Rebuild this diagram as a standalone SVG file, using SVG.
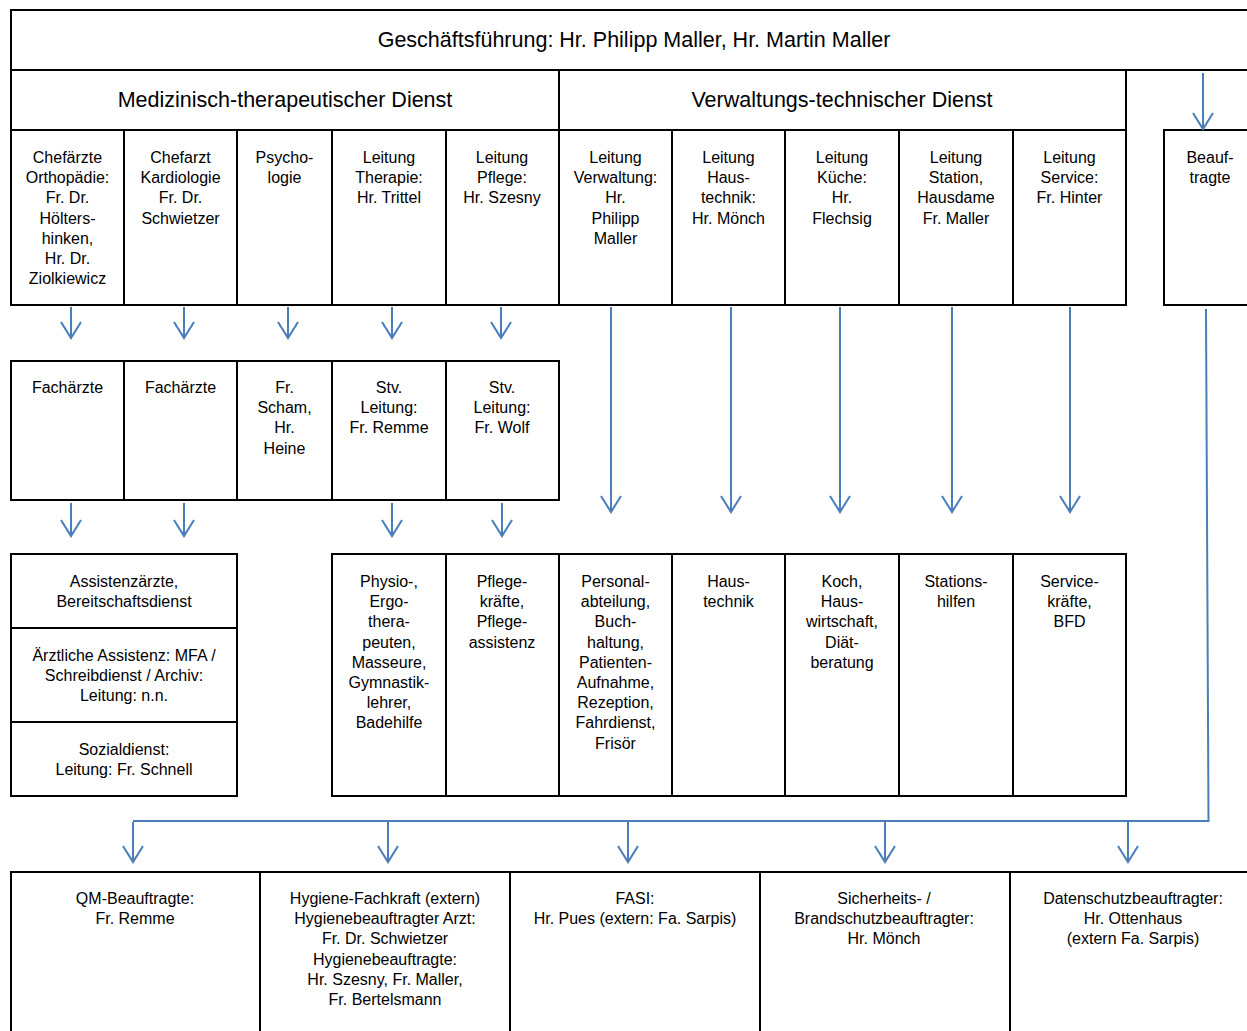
<svg xmlns="http://www.w3.org/2000/svg" width="1247" height="1031" viewBox="0 0 1247 1031">
<style>
.b{fill:#fff;stroke:#000;stroke-width:2}
.l{stroke:#000;stroke-width:2;fill:none}
text{font-family:"Liberation Sans",Arial,sans-serif;font-size:16px;fill:#000;text-anchor:middle}
.h{font-size:21.5px}
.c{stroke:#4a7ebb;stroke-width:2;fill:none}
</style>
<defs>
<marker id="ah" markerUnits="userSpaceOnUse" markerWidth="24" markerHeight="24" refX="0" refY="0" viewBox="-18 -12 20 24" orient="auto" overflow="visible">
<path d="M-16,-10 L0,0 L-16,10" fill="none" stroke="#4a7ebb" stroke-width="2"/>
</marker>
</defs>
<rect width="1247" height="1031" fill="#fff"/>

<g id="gf">
<rect class="b" x="11" y="10" width="1250" height="60"/>
<text class="h" x="634" y="47">Geschäftsführung: Hr. Philipp Maller, Hr. Martin Maller</text>
</g>
<g id="med">
<rect class="b" x="11" y="70" width="548" height="60"/>
<text class="h" x="285" y="107">Medizinisch-therapeutischer Dienst</text>
</g>
<g id="verw">
<rect class="b" x="559" y="70" width="567" height="60"/>
<text class="h" x="842" y="107">Verwaltungs-technischer Dienst</text>
</g>
<line class="l" x1="1126" y1="70" x2="1247" y2="70"/>

<g id="r3c1"><rect class="b" x="11" y="130" width="113" height="175"/>
<text x="67.5" y="163"><tspan x="67.5">Chefärzte</tspan><tspan x="67.5" dy="20.2">Orthopädie:</tspan><tspan x="67.5" dy="20.2">Fr. Dr.</tspan><tspan x="67.5" dy="20.2">Hölters-</tspan><tspan x="67.5" dy="20.2">hinken,</tspan><tspan x="67.5" dy="20.2">Hr. Dr.</tspan><tspan x="67.5" dy="20.2">Ziolkiewicz</tspan></text></g>
<g id="r3c2"><rect class="b" x="124" y="130" width="113" height="175"/>
<text x="180.5" y="163"><tspan x="180.5">Chefarzt</tspan><tspan x="180.5" dy="20.2">Kardiologie</tspan><tspan x="180.5" dy="20.2">Fr. Dr.</tspan><tspan x="180.5" dy="20.2">Schwietzer</tspan></text></g>
<g id="r3c3"><rect class="b" x="237" y="130" width="95" height="175"/>
<text x="284.5" y="163"><tspan x="284.5">Psycho-</tspan><tspan x="284.5" dy="20.2">logie</tspan></text></g>
<g id="r3c4"><rect class="b" x="332" y="130" width="114" height="175"/>
<text x="389" y="163"><tspan x="389">Leitung</tspan><tspan x="389" dy="20.2">Therapie:</tspan><tspan x="389" dy="20.2">Hr. Trittel</tspan></text></g>
<g id="r3c5"><rect class="b" x="446" y="130" width="113" height="175"/>
<text x="502" y="163"><tspan x="502">Leitung</tspan><tspan x="502" dy="20.2">Pflege:</tspan><tspan x="502" dy="20.2">Hr. Szesny</tspan></text></g>
<g id="r3c6"><rect class="b" x="559" y="130" width="113" height="175"/>
<text x="615.5" y="163"><tspan x="615.5">Leitung</tspan><tspan x="615.5" dy="20.2">Verwaltung:</tspan><tspan x="615.5" dy="20.2">Hr.</tspan><tspan x="615.5" dy="20.2">Philipp</tspan><tspan x="615.5" dy="20.2">Maller</tspan></text></g>
<g id="r3c7"><rect class="b" x="672" y="130" width="113" height="175"/>
<text x="728.5" y="163"><tspan x="728.5">Leitung</tspan><tspan x="728.5" dy="20.2">Haus-</tspan><tspan x="728.5" dy="20.2">technik:</tspan><tspan x="728.5" dy="20.2">Hr. Mönch</tspan></text></g>
<g id="r3c8"><rect class="b" x="785" y="130" width="114" height="175"/>
<text x="842" y="163"><tspan x="842">Leitung</tspan><tspan x="842" dy="20.2">Küche:</tspan><tspan x="842" dy="20.2">Hr.</tspan><tspan x="842" dy="20.2">Flechsig</tspan></text></g>
<g id="r3c9"><rect class="b" x="899" y="130" width="114" height="175"/>
<text x="956" y="163"><tspan x="956">Leitung</tspan><tspan x="956" dy="20.2">Station,</tspan><tspan x="956" dy="20.2">Hausdame</tspan><tspan x="956" dy="20.2">Fr. Maller</tspan></text></g>
<g id="r3c10"><rect class="b" x="1013" y="130" width="113" height="175"/>
<text x="1069.5" y="163"><tspan x="1069.5">Leitung</tspan><tspan x="1069.5" dy="20.2">Service:</tspan><tspan x="1069.5" dy="20.2">Fr. Hinter</tspan></text></g>
<g id="beauf"><rect class="b" x="1164" y="130" width="100" height="175"/>
<text x="1210" y="163"><tspan x="1210">Beauf-</tspan><tspan x="1210" dy="20.2">tragte</tspan></text></g>

<g id="r4c1"><rect class="b" x="11" y="361" width="113" height="139"/>
<text x="67.5" y="393">Fachärzte</text></g>
<g id="r4c2"><rect class="b" x="124" y="361" width="113" height="139"/>
<text x="180.5" y="393">Fachärzte</text></g>
<g id="r4c3"><rect class="b" x="237" y="361" width="95" height="139"/>
<text x="284.5" y="393"><tspan x="284.5">Fr.</tspan><tspan x="284.5" dy="20.2">Scham,</tspan><tspan x="284.5" dy="20.2">Hr.</tspan><tspan x="284.5" dy="20.2">Heine</tspan></text></g>
<g id="r4c4"><rect class="b" x="332" y="361" width="114" height="139"/>
<text x="389" y="393"><tspan x="389">Stv.</tspan><tspan x="389" dy="20.2">Leitung:</tspan><tspan x="389" dy="20.2">Fr. Remme</tspan></text></g>
<g id="r4c5"><rect class="b" x="446" y="361" width="113" height="139"/>
<text x="502" y="393"><tspan x="502">Stv.</tspan><tspan x="502" dy="20.2">Leitung:</tspan><tspan x="502" dy="20.2">Fr. Wolf</tspan></text></g>

<g id="r5a1"><rect class="b" x="11" y="554" width="226" height="74"/>
<text x="124" y="587"><tspan x="124">Assistenzärzte,</tspan><tspan x="124" dy="20.2">Bereitschaftsdienst</tspan></text></g>
<g id="r5a2"><rect class="b" x="11" y="628" width="226" height="94"/>
<text x="124" y="661"><tspan x="124">Ärztliche Assistenz: MFA /</tspan><tspan x="124" dy="20.2">Schreibdienst / Archiv:</tspan><tspan x="124" dy="20.2">Leitung: n.n.</tspan></text></g>
<g id="r5a3"><rect class="b" x="11" y="722" width="226" height="74"/>
<text x="124" y="755"><tspan x="124">Sozialdienst:</tspan><tspan x="124" dy="20.2">Leitung: Fr. Schnell</tspan></text></g>

<g id="r5c4"><rect class="b" x="332" y="554" width="114" height="242"/>
<text x="389" y="587"><tspan x="389">Physio-,</tspan><tspan x="389" dy="20.2">Ergo-</tspan><tspan x="389" dy="20.2">thera-</tspan><tspan x="389" dy="20.2">peuten,</tspan><tspan x="389" dy="20.2">Masseure,</tspan><tspan x="389" dy="20.2">Gymnastik-</tspan><tspan x="389" dy="20.2">lehrer,</tspan><tspan x="389" dy="20.2">Badehilfe</tspan></text></g>
<g id="r5c5"><rect class="b" x="446" y="554" width="113" height="242"/>
<text x="502" y="587"><tspan x="502">Pflege-</tspan><tspan x="502" dy="20.2">kräfte,</tspan><tspan x="502" dy="20.2">Pflege-</tspan><tspan x="502" dy="20.2">assistenz</tspan></text></g>
<g id="r5c6"><rect class="b" x="559" y="554" width="113" height="242"/>
<text x="615.5" y="587"><tspan x="615.5">Personal-</tspan><tspan x="615.5" dy="20.2">abteilung,</tspan><tspan x="615.5" dy="20.2">Buch-</tspan><tspan x="615.5" dy="20.2">haltung,</tspan><tspan x="615.5" dy="20.2">Patienten-</tspan><tspan x="615.5" dy="20.2">Aufnahme,</tspan><tspan x="615.5" dy="20.2">Rezeption,</tspan><tspan x="615.5" dy="20.2">Fahrdienst,</tspan><tspan x="615.5" dy="20.2">Frisör</tspan></text></g>
<g id="r5c7"><rect class="b" x="672" y="554" width="113" height="242"/>
<text x="728.5" y="587"><tspan x="728.5">Haus-</tspan><tspan x="728.5" dy="20.2">technik</tspan></text></g>
<g id="r5c8"><rect class="b" x="785" y="554" width="114" height="242"/>
<text x="842" y="587"><tspan x="842">Koch,</tspan><tspan x="842" dy="20.2">Haus-</tspan><tspan x="842" dy="20.2">wirtschaft,</tspan><tspan x="842" dy="20.2">Diät-</tspan><tspan x="842" dy="20.2">beratung</tspan></text></g>
<g id="r5c9"><rect class="b" x="899" y="554" width="114" height="242"/>
<text x="956" y="587"><tspan x="956">Stations-</tspan><tspan x="956" dy="20.2">hilfen</tspan></text></g>
<g id="r5c10"><rect class="b" x="1013" y="554" width="113" height="242"/>
<text x="1069.5" y="587"><tspan x="1069.5">Service-</tspan><tspan x="1069.5" dy="20.2">kräfte,</tspan><tspan x="1069.5" dy="20.2">BFD</tspan></text></g>

<g id="b1"><rect class="b" x="11" y="872" width="249" height="170"/>
<text x="135" y="904"><tspan x="135">QM-Beauftragte:</tspan><tspan x="135" dy="20.2">Fr. Remme</tspan></text></g>
<g id="b2"><rect class="b" x="260" y="872" width="250" height="170"/>
<text x="385" y="904"><tspan x="385">Hygiene-Fachkraft (extern)</tspan><tspan x="385" dy="20.2">Hygienebeauftragter Arzt:</tspan><tspan x="385" dy="20.2">Fr. Dr. Schwietzer</tspan><tspan x="385" dy="20.2">Hygienebeauftragte:</tspan><tspan x="385" dy="20.2">Hr. Szesny, Fr. Maller,</tspan><tspan x="385" dy="20.2">Fr. Bertelsmann</tspan></text></g>
<g id="b3"><rect class="b" x="510" y="872" width="250" height="170"/>
<text x="635" y="904"><tspan x="635">FASI:</tspan><tspan x="635" dy="20.2">Hr. Pues (extern: Fa. Sarpis)</tspan></text></g>
<g id="b4"><rect class="b" x="760" y="872" width="250" height="170"/>
<text x="884" y="904"><tspan x="884">Sicherheits- /</tspan><tspan x="884" dy="20.2">Brandschutzbeauftragter:</tspan><tspan x="884" dy="20.2">Hr. Mönch</tspan></text></g>
<g id="b5"><rect class="b" x="1010" y="872" width="250" height="170"/>
<text x="1133" y="904"><tspan x="1133">Datenschutzbeauftragter:</tspan><tspan x="1133" dy="20.2">Hr. Ottenhaus</tspan><tspan x="1133" dy="20.2">(extern Fa. Sarpis)</tspan></text></g>

<g id="connectors" class="c">
<line x1="1203" y1="73" x2="1203" y2="129" marker-end="url(#ah)"/>
<line x1="71" y1="307" x2="71" y2="338" marker-end="url(#ah)"/>
<line x1="184" y1="307" x2="184" y2="338" marker-end="url(#ah)"/>
<line x1="288" y1="307" x2="288" y2="338" marker-end="url(#ah)"/>
<line x1="392" y1="307" x2="392" y2="338" marker-end="url(#ah)"/>
<line x1="501" y1="307" x2="501" y2="338" marker-end="url(#ah)"/>
<line x1="71" y1="503" x2="71" y2="536" marker-end="url(#ah)"/>
<line x1="184" y1="503" x2="184" y2="536" marker-end="url(#ah)"/>
<line x1="392" y1="503" x2="392" y2="536" marker-end="url(#ah)"/>
<line x1="502" y1="503" x2="502" y2="536" marker-end="url(#ah)"/>
<line x1="611" y1="307" x2="611" y2="512" marker-end="url(#ah)"/>
<line x1="731" y1="307" x2="731" y2="512" marker-end="url(#ah)"/>
<line x1="840" y1="307" x2="840" y2="512" marker-end="url(#ah)"/>
<line x1="952" y1="307" x2="952" y2="512" marker-end="url(#ah)"/>
<line x1="1070" y1="307" x2="1070" y2="512" marker-end="url(#ah)"/>
<polyline points="1206,309 1208.5,821 133,821"/>
<line x1="133" y1="822" x2="133" y2="862" marker-end="url(#ah)"/>
<line x1="388" y1="822" x2="388" y2="862" marker-end="url(#ah)"/>
<line x1="628" y1="822" x2="628" y2="862" marker-end="url(#ah)"/>
<line x1="885" y1="822" x2="885" y2="862" marker-end="url(#ah)"/>
<line x1="1128" y1="822" x2="1128" y2="862" marker-end="url(#ah)"/>
</g>
</svg>
